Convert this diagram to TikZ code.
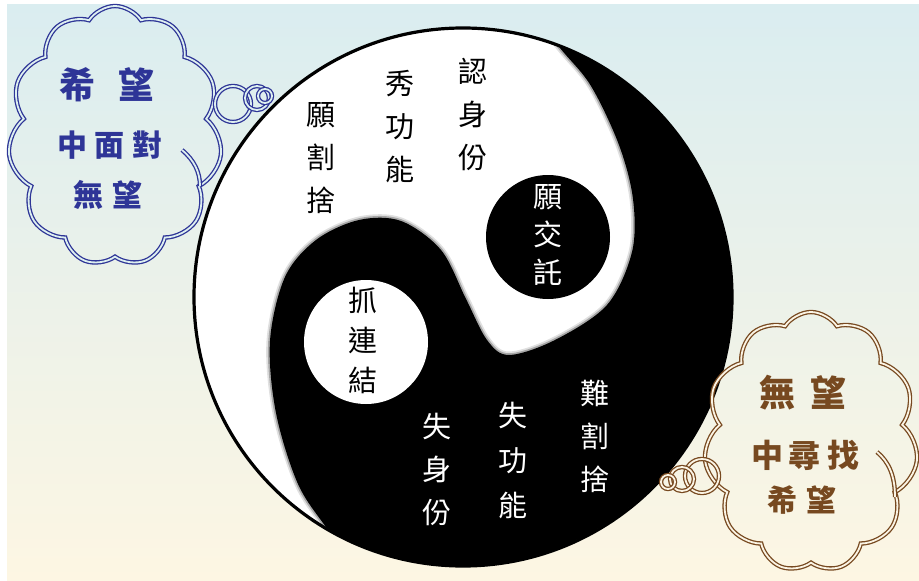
\documentclass[tikz,border=0pt]{standalone}
\usepackage{fontspec}
\newfontfamily\cjk{Noto Sans CJK TC}
\usetikzlibrary{shapes.symbols}
\definecolor{skytop}{HTML}{DAEDF0}
\definecolor{creambot}{HTML}{FDF6E3}
\definecolor{inkblue}{HTML}{2E3597}
\definecolor{inkbrown}{HTML}{774920}
\definecolor{blueinner}{HTML}{DDEFF0}
\definecolor{browninner}{HTML}{FBF4E4}
\begin{document}
\begin{tikzpicture}[x=1pt,y=-1pt,
  vtext/.style={align=center, inner sep=0pt, font=\cjk\fontsize{29}{#1}\selectfont},
  vtext/.default=43,
  cloudline/.style={line width=1.3pt, double distance=1.8pt},
  thought/.style={cloud, cloud puffs=11, cloud puff arc=115, cloud ignores aspect,
    minimum width=214pt, minimum height=260pt, inner sep=0pt, cloudline},
  ctext/.style={inner sep=0pt, font=\cjk\bfseries\fontsize{#1}{#1}\selectfont}]
\useasboundingbox (0,0) rectangle (919,581);
\fill[white] (0,0) rectangle (919,581);
\shade[top color=skytop, bottom color=creambot] (7,4) rectangle (919,580);

% yin-yang disc
\fill[white] (463,297) circle[radius=269];
\begin{scope}
  \clip (463,297) circle[radius=268];
  \fill[black] plot[smooth, tension=0.55] coordinates {(522,0) (560,48) (591,86) (619,145) (633,199) (632,252) (607,305) (555,340) (509,355) (487,340) (466,299) (441,250) (401,221) (359,220) (316,240) (285,277) (270,341) (276,413) (298,484) (328,530) (362,578)}
    -- (362,600) -- (800,600) -- (800,-10) -- (522,-10) -- cycle;
  % soft edge along the dividing curve
  \draw[line width=7pt, black, opacity=0.12] plot[smooth, tension=0.55] coordinates {(522,0) (560,48) (591,86) (619,145) (633,199) (632,252) (607,305) (555,340) (509,355) (487,340) (466,299) (441,250) (401,221) (359,220) (316,240) (285,277) (270,341) (276,413) (298,484) (328,530) (362,578)};
  \draw[line width=3.5pt, black, opacity=0.25] plot[smooth, tension=0.55] coordinates {(522,0) (560,48) (591,86) (619,145) (633,199) (632,252) (607,305) (555,340) (509,355) (487,340) (466,299) (441,250) (401,221) (359,220) (316,240) (285,277) (270,341) (276,413) (298,484) (328,530) (362,578)};
\end{scope}
\fill[black] (548,237) circle[radius=62];
\fill[white] (366,342) circle[radius=62];
\draw[line width=3.2pt, black] (463,297) circle[radius=269];

% vertical labels
\node[vtext] (t1) at (473,114) {認\\身\\份};
\node[vtext] (t2) at (400,127) {秀\\功\\能};
\node[vtext] (t3) at (321,158) {願\\割\\捨};
\node[vtext=38, white] (t4) at (548,235) {願\\交\\託};
\node[vtext=40] (t5) at (363,340) {抓\\連\\結};
\node[vtext, white] (t6) at (437,469) {失\\身\\份};
\node[vtext=45, white] (t7) at (513,461) {失\\功\\能};
\node[vtext, white] (t8) at (595,436) {難\\割\\捨};

% blue thought cloud
\node[thought, draw=inkblue, double=blueinner] (hope) at (115,136) {};
\draw[cloudline, draw=inkblue, double=blueinner] (182,150) .. controls (194,160) and (200,172) .. (200,186);
\draw[cloudline, draw=inkblue, double=blueinner] (233,104) circle[radius=18];
\draw[cloudline, draw=inkblue, double=blueinner] (257,98) circle[radius=12];
\draw[cloudline, draw=inkblue, double=blueinner] (265,96) circle[radius=7];
\node[ctext=36, inkblue] (h1) at (107,85) {希\hspace{24pt}望};
\node[ctext=30, inkblue] (h2) at (110,145) {中\hspace{8pt}面\hspace{8pt}對};
\node[ctext=30, inkblue] (h3) at (108,195) {無\hspace{9pt}望};

% brown thought cloud
\node[thought, draw=inkbrown, double=browninner] (despair) at (811,442) {};
\draw[cloudline, draw=inkbrown, double=browninner] (877,452) .. controls (889,462) and (895,476) .. (895,497);
\draw[cloudline, draw=inkbrown, double=browninner] (702,476) circle[radius=17];
\draw[cloudline, draw=inkbrown, double=browninner] (682,479) circle[radius=12];
\draw[cloudline, draw=inkbrown, double=browninner] (668,482) circle[radius=7];
\node[ctext=36, inkbrown] (d1) at (803,393) {無\hspace{16pt}望};
\node[ctext=32, inkbrown] (d2) at (805,455) {中\hspace{6pt}尋\hspace{6pt}找};
\node[ctext=30, inkbrown] (d3) at (802,500) {希\hspace{10pt}望};
\end{tikzpicture}
\end{document}
